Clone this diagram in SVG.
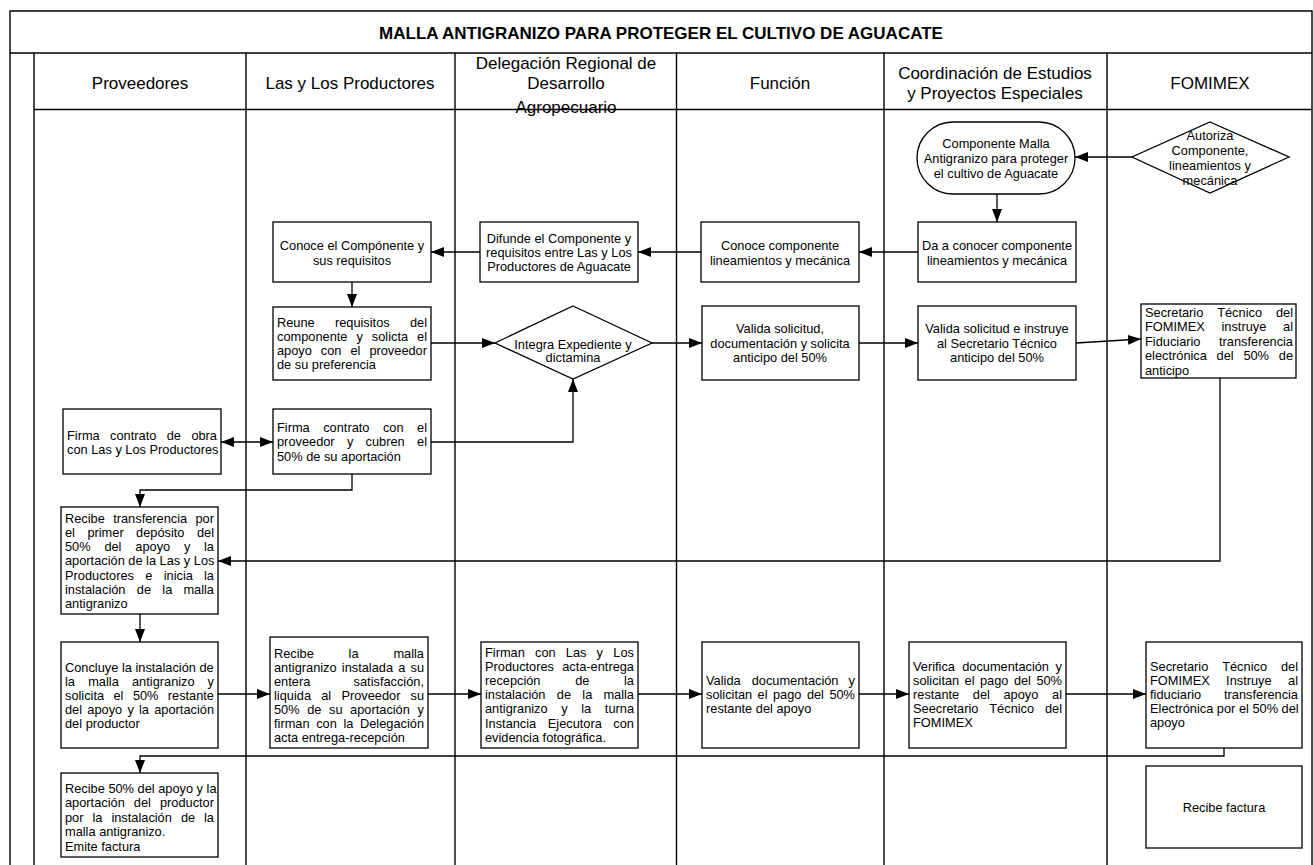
<svg xmlns="http://www.w3.org/2000/svg" width="1313" height="865" viewBox="0 0 1313 865">
<style>
.fr{stroke:#000;stroke-width:1.4;fill:none}
.ln{stroke:#000;stroke-width:1.3;fill:none}
.nd{fill:#fff;stroke:#000;stroke-width:1.3}
text{font-family:"Liberation Sans",Arial,sans-serif;font-size:12.8px;fill:#000}
.c{text-anchor:middle}
.e{text-anchor:end}
.h{font-size:17px}
.ti{font-size:17px;font-weight:bold}
</style>
<defs>
<marker id="ar" markerUnits="userSpaceOnUse" markerWidth="13" markerHeight="10" refX="13" refY="5" orient="auto-start-reverse"><path d="M0,0 L13,5 L0,10 z" fill="#000"/></marker>
</defs>
<rect x="0" y="0" width="1313" height="865" fill="#fff"/>
<g id="frame">
<path class="fr" d="M10,865 V11 H1312 V865"/>
<path class="fr" d="M10,53 H1312"/>
<path class="fr" d="M34,109.5 H1312"/>
<path class="fr" d="M34,53 V865 M246,53 V865 M455,53 V865 M676.5,53 V865 M884,53 V865 M1107,53 V865"/>
<text class="c ti" x="661" y="39">MALLA ANTIGRANIZO PARA PROTEGER EL CULTIVO DE AGUACATE</text>
<text class="c h" x="140" y="89">Proveedores</text>
<text class="c h" x="350" y="89">Las y Los Productores</text>
<text class="c h" x="566" y="69">Delegación Regional de</text>
<text class="c h" x="566" y="89">Desarrollo</text>
<text class="c h" x="566" y="113">Agropecuario</text>
<text class="c h" x="780" y="89">Función</text>
<text class="c h" x="995" y="79">Coordinación de Estudios</text>
<text class="c h" x="995" y="99">y Proyectos Especiales</text>
<text class="c h" x="1210" y="89">FOMIMEX</text>
</g>
<g id="connectors">
<path class="ln" marker-end="url(#ar)" d="M1132,157 H1075"/>
<path class="ln" marker-end="url(#ar)" d="M997,194 V222"/>
<path class="ln" marker-end="url(#ar)" d="M918,252 H859"/>
<path class="ln" marker-end="url(#ar)" d="M701,252 H638"/>
<path class="ln" marker-end="url(#ar)" d="M480,252 H431"/>
<path class="ln" marker-end="url(#ar)" d="M352,282 V307"/>
<path class="ln" marker-end="url(#ar)" d="M431,343 H495"/>
<path class="ln" marker-end="url(#ar)" d="M652,343 H702"/>
<path class="ln" marker-end="url(#ar)" d="M859,343 H918"/>
<path class="ln" marker-end="url(#ar)" d="M1076,343 L1141,339"/>
<path class="ln" marker-start="url(#ar)" marker-end="url(#ar)" d="M221,442 H273"/>
<path class="ln" marker-end="url(#ar)" d="M431,442 H573 V379"/>
<path class="ln" marker-end="url(#ar)" d="M352,474 V490 H140 V507"/>
<path class="ln" marker-end="url(#ar)" d="M1220,378 V561 H218"/>
<path class="ln" marker-end="url(#ar)" d="M140,614 V642"/>
<path class="ln" marker-end="url(#ar)" d="M218,694 H270"/>
<path class="ln" marker-end="url(#ar)" d="M428,694 H481"/>
<path class="ln" marker-end="url(#ar)" d="M638,694 H702"/>
<path class="ln" marker-end="url(#ar)" d="M859,694 H909"/>
<path class="ln" marker-end="url(#ar)" d="M1066,694 H1146"/>
<path class="ln" marker-end="url(#ar)" d="M1224,748 V756 H140 V773"/>
</g>
<g id="n1">
<rect class="nd" x="917" y="122" width="158" height="72" rx="36" ry="36"/>
<text class="c" x="996" y="147.5">Componente Malla</text>
<text class="c" x="996" y="162.5">Antigranizo para proteger</text>
<text class="c" x="996" y="177.5">el cultivo de Aguacate</text>
</g>
<g id="n2">
<polygon class="nd" points="1210,122 1289,157 1210,193 1132,157"/>
<text class="c" x="1210" y="139.5">Autoriza</text>
<text class="c" x="1210" y="154.5">Componente,</text>
<text class="c" x="1210" y="169.5">lineamientos y</text>
<text class="c" x="1210" y="184.5">mecánica</text>
</g>
<g id="n3">
<rect class="nd" x="918" y="222" width="158" height="60"/>
<text class="c" x="997" y="249.5">Da a conocer componente</text>
<text class="c" x="997" y="264.5">lineamientos y mecánica</text>
</g>
<g id="n4">
<rect class="nd" x="701" y="222" width="158" height="60"/>
<text class="c" x="780" y="249.5">Conoce componente</text>
<text class="c" x="780" y="264.5">lineamientos y mecánica</text>
</g>
<g id="n5">
<rect class="nd" x="480" y="222" width="158" height="60"/>
<text class="c" x="559" y="242.5">Difunde el Componente y</text>
<text class="c" x="559" y="256.5">requisitos entre Las y Los</text>
<text class="c" x="559" y="270.5">Productores de Aguacate</text>
</g>
<g id="n6">
<rect class="nd" x="273" y="222" width="158" height="60"/>
<text class="c" x="352" y="249.5">Conoce el Compónente y</text>
<text class="c" x="352" y="264.5">sus requisitos</text>
</g>
<g id="n7">
<rect class="nd" x="273" y="307" width="158" height="73"/>
<text y="326.5"><tspan x="277">Reune</tspan> <tspan x="334.9">requisitos</tspan> <tspan x="427" class="e">del</tspan></text>
<text y="340.5"><tspan x="277">componente</tspan> <tspan x="356.4">y</tspan> <tspan x="371.8">solicta</tspan> <tspan x="427" class="e">el</tspan></text>
<text y="354.5"><tspan x="277">apoyo</tspan> <tspan x="320.8">con</tspan> <tspan x="350.4">el</tspan> <tspan x="427" class="e">proveedor</tspan></text>
<text x="277" y="368.5">de su preferencia</text>
</g>
<g id="n8">
<polygon class="nd" points="573,306 652,343 573,379 495,343"/>
<text class="c" x="573" y="348.5">Integra Expediente y</text>
<text class="c" x="573" y="362">dictamina</text>
</g>
<g id="n9">
<rect class="nd" x="702" y="306" width="157" height="74"/>
<text class="c" x="780" y="333">Valida solicitud,</text>
<text class="c" x="780" y="347.5">documentación y solicita</text>
<text class="c" x="780" y="362">anticipo del 50%</text>
</g>
<g id="n10">
<rect class="nd" x="918" y="306" width="158" height="74"/>
<text class="c" x="997" y="333">Valida solicitud e instruye</text>
<text class="c" x="997" y="347.5">al Secretario Técnico</text>
<text class="c" x="997" y="362">anticipo del 50%</text>
</g>
<g id="n11">
<rect class="nd" x="1141" y="304" width="155" height="74"/>
<text y="316.5"><tspan x="1145">Secretario</tspan> <tspan x="1217.2">Técnico</tspan> <tspan x="1293" class="e">del</tspan></text>
<text y="331"><tspan x="1145">FOMIMEX</tspan> <tspan x="1221.5">instruye</tspan> <tspan x="1293" class="e">al</tspan></text>
<text y="345.5"><tspan x="1145">Fiduciario</tspan> <tspan x="1293" class="e">transferencia</tspan></text>
<text y="360"><tspan x="1145">electrónica</tspan> <tspan x="1216.6">del</tspan> <tspan x="1243.4">50%</tspan> <tspan x="1293" class="e">de</tspan></text>
<text x="1145" y="374.5">anticipo</text>
</g>
<g id="n12">
<rect class="nd" x="63" y="409" width="158" height="65"/>
<text y="439.5"><tspan x="67">Firma</tspan> <tspan x="110.1">contrato</tspan> <tspan x="166.7">de</tspan> <tspan x="217" class="e">obra</tspan></text>
<text x="67" y="454">con Las y Los Productores</text>
</g>
<g id="n13">
<rect class="nd" x="273" y="409" width="158" height="65"/>
<text y="431.5"><tspan x="277">Firma</tspan> <tspan x="323.2">contrato</tspan> <tspan x="382.9">con</tspan> <tspan x="427" class="e">el</tspan></text>
<text y="446"><tspan x="277">proveedor</tspan> <tspan x="346.9">y</tspan> <tspan x="365.6">cubren</tspan> <tspan x="427" class="e">el</tspan></text>
<text x="277" y="460.5">50% de su aportación</text>
</g>
<g id="n14">
<rect class="nd" x="61" y="507" width="157" height="107"/>
<text y="522.5"><tspan x="65">Recibe</tspan> <tspan x="113.2">transferencia</tspan> <tspan x="214" class="e">por</tspan></text>
<text y="536.8"><tspan x="65">el</tspan> <tspan x="87.4">primer</tspan> <tspan x="136.1">depósito</tspan> <tspan x="214" class="e">del</tspan></text>
<text y="551.1"><tspan x="65">50%</tspan> <tspan x="104.4">del</tspan> <tspan x="135.3">apoyo</tspan> <tspan x="184">y</tspan> <tspan x="214" class="e">la</tspan></text>
<text x="65" y="565.4">aportación de la Las y Los</text>
<text y="579.7"><tspan x="65">Productores</tspan> <tspan x="145.3">e</tspan> <tspan x="163.7">inicia</tspan> <tspan x="214" class="e">la</tspan></text>
<text y="594"><tspan x="65">instalación</tspan> <tspan x="136.8">de</tspan> <tspan x="162.3">la</tspan> <tspan x="214" class="e">malla</tspan></text>
<text x="65" y="608.3">antigranizo</text>
</g>
<g id="n15">
<rect class="nd" x="61" y="642" width="157" height="106"/>
<text x="65" y="671.5">Concluye la instalación de</text>
<text y="685.5"><tspan x="65">la</tspan> <tspan x="88.2">malla</tspan> <tspan x="132">antigranizo</tspan> <tspan x="214" class="e">y</tspan></text>
<text y="699.5"><tspan x="65">solicita</tspan> <tspan x="113.5">el</tspan> <tspan x="132.9">50%</tspan> <tspan x="214" class="e">restante</tspan></text>
<text y="713.5"><tspan x="65">del</tspan> <tspan x="87.3">apoyo</tspan> <tspan x="127.4">y</tspan> <tspan x="139">la</tspan> <tspan x="214" class="e">aportación</tspan></text>
<text x="65" y="727.5">del productor</text>
</g>
<g id="n16">
<rect class="nd" x="270" y="637" width="158" height="111"/>
<text y="657.5"><tspan x="274">Recibe</tspan> <tspan x="348.6">la</tspan> <tspan x="424" class="e">malla</tspan></text>
<text y="671.5"><tspan x="274">antigranizo</tspan> <tspan x="341.8">instalada</tspan> <tspan x="398.2">a</tspan> <tspan x="424" class="e">su</tspan></text>
<text y="685.5"><tspan x="274">entera</tspan> <tspan x="424" class="e">satisfacción,</tspan></text>
<text y="699.5"><tspan x="274">liquida</tspan> <tspan x="321.2">al</tspan> <tspan x="341.4">Proveedor</tspan> <tspan x="424" class="e">su</tspan></text>
<text y="713.5"><tspan x="274">50%</tspan> <tspan x="307.2">de</tspan> <tspan x="329">su</tspan> <tspan x="350.1">aportación</tspan> <tspan x="424" class="e">y</tspan></text>
<text y="727.5"><tspan x="274">firman</tspan> <tspan x="316.2">con</tspan> <tspan x="343.4">la</tspan> <tspan x="424" class="e">Delegación</tspan></text>
<text x="274" y="741.5">acta entrega-recepción</text>
</g>
<g id="n17">
<rect class="nd" x="481" y="642" width="157" height="106"/>
<text y="657"><tspan x="485">Firman</tspan> <tspan x="535">con</tspan> <tspan x="565.8">Las</tspan> <tspan x="596.6">y</tspan> <tspan x="634" class="e">Los</tspan></text>
<text y="671.1"><tspan x="485">Productores</tspan> <tspan x="634" class="e">acta-entrega</tspan></text>
<text y="685.2"><tspan x="485">recepción</tspan> <tspan x="575.2">de</tspan> <tspan x="634" class="e">la</tspan></text>
<text y="699.3"><tspan x="485">instalación</tspan> <tspan x="556.8">de</tspan> <tspan x="582.3">la</tspan> <tspan x="634" class="e">malla</tspan></text>
<text y="713.4"><tspan x="485">antigranizo</tspan> <tspan x="561.2">y</tspan> <tspan x="581.2">la</tspan> <tspan x="634" class="e">turna</tspan></text>
<text y="727.5"><tspan x="485">Instancia</tspan> <tspan x="547.8">Ejecutora</tspan> <tspan x="634" class="e">con</tspan></text>
<text x="485" y="741.6">evidencia fotográfica.</text>
</g>
<g id="n18">
<rect class="nd" x="702" y="642" width="157" height="106"/>
<text y="684.5"><tspan x="706">Valida</tspan> <tspan x="751.7">documentación</tspan> <tspan x="855" class="e">y</tspan></text>
<text y="698.5"><tspan x="706">solicitan</tspan> <tspan x="757.6">el</tspan> <tspan x="773">pago</tspan> <tspan x="806.9">del</tspan> <tspan x="855" class="e">50%</tspan></text>
<text x="706" y="712.5">restante del apoyo</text>
</g>
<g id="n19">
<rect class="nd" x="909" y="642" width="157" height="106"/>
<text y="671"><tspan x="913">Verifica</tspan> <tspan x="962.2">documentación</tspan> <tspan x="1062" class="e">y</tspan></text>
<text y="685"><tspan x="913">solicitan</tspan> <tspan x="964.6">el</tspan> <tspan x="980">pago</tspan> <tspan x="1013.9">del</tspan> <tspan x="1062" class="e">50%</tspan></text>
<text y="699"><tspan x="913">restante</tspan> <tspan x="972.8">del</tspan> <tspan x="1003.5">apoyo</tspan> <tspan x="1062" class="e">al</tspan></text>
<text y="713"><tspan x="913">Seecretario</tspan> <tspan x="989.3">Técnico</tspan> <tspan x="1062" class="e">del</tspan></text>
<text x="913" y="727">FOMIMEX</text>
</g>
<g id="n20">
<rect class="nd" x="1146" y="642" width="156" height="106"/>
<text y="671"><tspan x="1150">Secretario</tspan> <tspan x="1222.2">Técnico</tspan> <tspan x="1298" class="e">del</tspan></text>
<text y="685"><tspan x="1150">FOMIMEX</tspan> <tspan x="1226.1">Instruye</tspan> <tspan x="1298" class="e">al</tspan></text>
<text y="699"><tspan x="1150">fiduciario</tspan> <tspan x="1298" class="e">transferencia</tspan></text>
<text x="1150" y="713">Electrónica por el 50% del</text>
<text x="1150" y="727">apoyo</text>
</g>
<g id="n21">
<rect class="nd" x="61" y="773" width="157" height="84"/>
<text x="65" y="792.5">Recibe 50% del apoyo y la</text>
<text y="807"><tspan x="65">aportación</tspan> <tspan x="133.8">del</tspan> <tspan x="214" class="e">productor</tspan></text>
<text y="821.5"><tspan x="65">por</tspan> <tspan x="92.5">la</tspan> <tspan x="111.4">instalación</tspan> <tspan x="180.9">de</tspan> <tspan x="214" class="e">la</tspan></text>
<text x="65" y="836">malla antigranizo.</text>
<text x="65" y="850.5">Emite factura</text>
</g>
<g id="n22">
<rect class="nd" x="1146" y="766" width="156" height="82"/>
<text class="c" x="1224" y="811.5">Recibe factura</text>
</g>
</svg>
